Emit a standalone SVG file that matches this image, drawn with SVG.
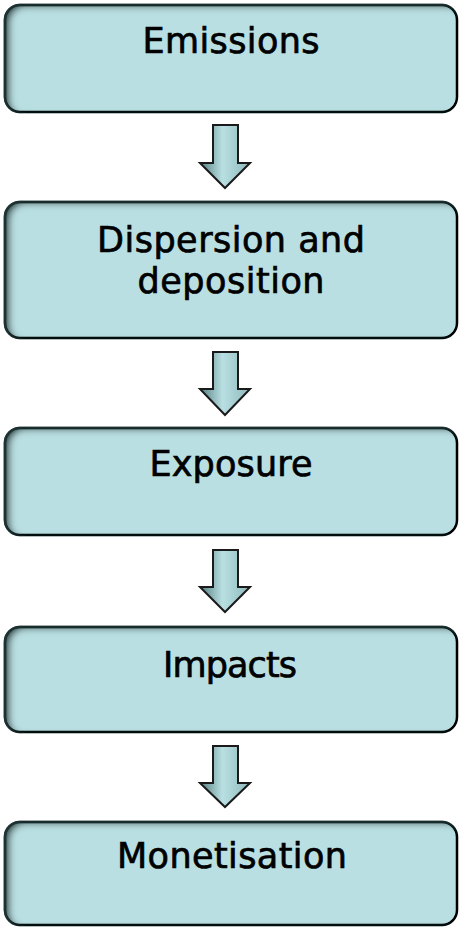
<svg xmlns="http://www.w3.org/2000/svg" width="460" height="927" viewBox="0 0 460 927">
<style>
.box{fill:#b9dfe2;stroke:#000;stroke-width:2.5}
.lbl{font-family:"DejaVu Sans","Liberation Sans",sans-serif;font-size:35px;fill:#000;stroke:#000;stroke-width:0.7;text-anchor:middle}
.arr{fill:url(#ag);stroke:#1a1a1a;stroke-width:2;stroke-linejoin:miter}
</style>
<defs>
<filter id="inner" x="-5%" y="-10%" width="110%" height="120%">
<feFlood flood-color="#1f3536" result="c"/>
<feComposite in="c" in2="SourceAlpha" operator="out" result="inv"/>
<feOffset in="inv" dx="6" dy="3" result="off"/>
<feGaussianBlur in="off" stdDeviation="3.5" result="blur"/>
<feComposite in="blur" in2="SourceAlpha" operator="in" result="sh"/>
<feMerge><feMergeNode in="SourceGraphic"/><feMergeNode in="sh"/></feMerge>
</filter>
<linearGradient id="ag" x1="0" y1="0" x2="1" y2="0">
<stop offset="0" stop-color="#567f82"/>
<stop offset="0.45" stop-color="#b9dfe2"/>
<stop offset="1" stop-color="#8fb9bc"/>
</linearGradient>
</defs>
<g id="connectors">
<path class="arr" d="M213,125 H238 V163 H250 L225,188 L200,163 H213 Z"/>
<path class="arr" d="M213,352 H238 V389 H250 L225,415 L200,389 H213 Z"/>
<path class="arr" d="M213,550 H238 V587 H250 L225,612 L200,587 H213 Z"/>
<path class="arr" d="M213,746 H238 V783 H250 L225,807 L200,783 H213 Z"/>
</g>
<g id="emissions">
<rect class="box" x="5" y="5" width="452" height="107" rx="15" filter="url(#inner)"/>
<text class="lbl" x="231" y="53" textLength="177" lengthAdjust="spacing">Emissions</text>
</g>
<g id="dispersion">
<rect class="box" x="5" y="202" width="452" height="136" rx="15" filter="url(#inner)"/>
<text class="lbl" x="231" y="252" textLength="268" lengthAdjust="spacing">Dispersion and</text>
<text class="lbl" x="231" y="293" textLength="187" lengthAdjust="spacing">deposition</text>
</g>
<g id="exposure">
<rect class="box" x="5" y="428" width="452" height="107" rx="15" filter="url(#inner)"/>
<text class="lbl" x="231" y="476" textLength="163" lengthAdjust="spacing">Exposure</text>
</g>
<g id="impacts">
<rect class="box" x="5" y="627" width="452" height="105" rx="15" filter="url(#inner)"/>
<text class="lbl" x="230" y="677" textLength="134" lengthAdjust="spacing">Impacts</text>
</g>
<g id="monetisation">
<rect class="box" x="5" y="822" width="452" height="103" rx="15" filter="url(#inner)"/>
<text class="lbl" x="232" y="868" textLength="230" lengthAdjust="spacing">Monetisation</text>
</g>
</svg>
